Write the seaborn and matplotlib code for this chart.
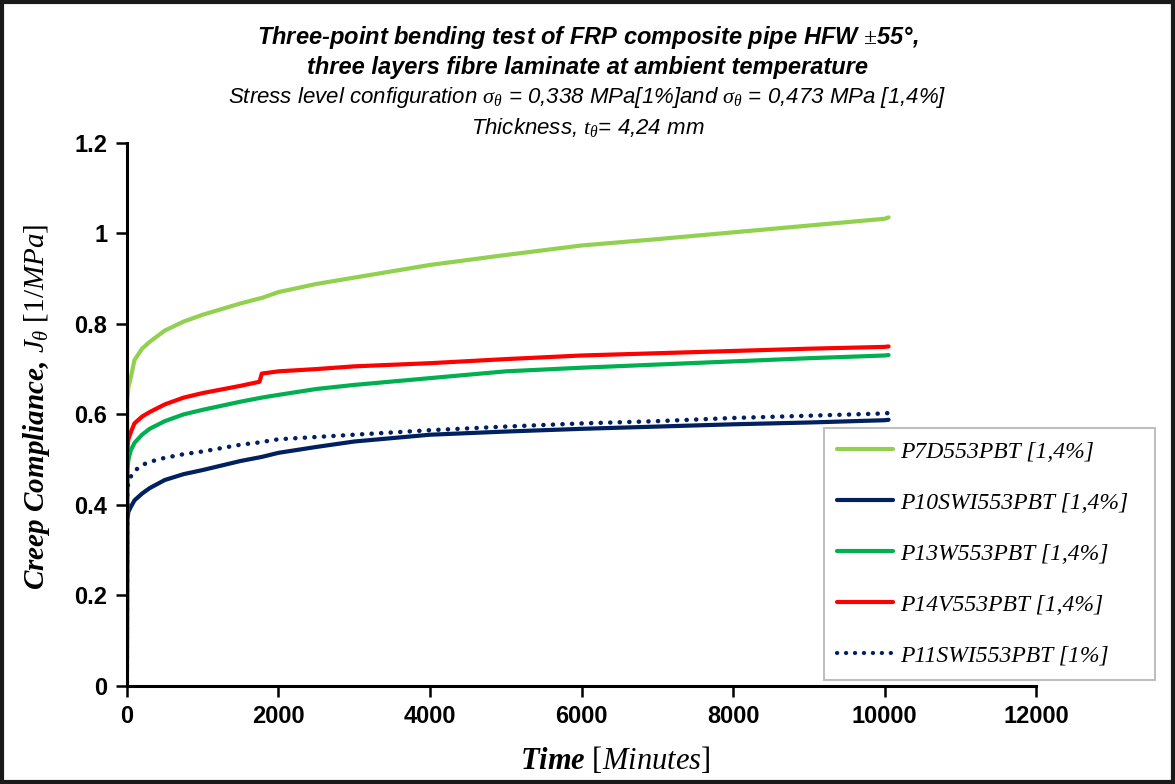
import matplotlib
matplotlib.use("Agg")
import matplotlib.pyplot as plt
from matplotlib import font_manager
from matplotlib.patches import Rectangle
import seaborn as sns
import pandas as pd

# ---------------- data ----------------
time_min = [0, 5, 20, 50, 100, 200, 300, 500, 750, 1000, 1500, 1750, 1780, 2000,
            2500, 3000, 4000, 5000, 6000, 7000, 8000, 9000, 10000, 10050]

p7d = [0, 0.63, 0.66, 0.68, 0.72, 0.745, 0.76, 0.785, 0.805, 0.82, 0.845, 0.856, 0.857,
       0.870, 0.888, 0.902, 0.930, 0.952, 0.973, 0.987, 1.002, 1.017, 1.032, 1.035]
p10swi = [0, 0.367, 0.385, 0.395, 0.41, 0.425, 0.437, 0.455, 0.468, 0.477, 0.497, 0.505,
          0.506, 0.515, 0.528, 0.540, 0.555, 0.562, 0.568, 0.573, 0.578, 0.582, 0.587, 0.588]
p13w = [0, 0.477, 0.50, 0.52, 0.537, 0.555, 0.568, 0.585, 0.60, 0.61, 0.628, 0.636, 0.637,
        0.643, 0.656, 0.665, 0.680, 0.695, 0.703, 0.710, 0.717, 0.724, 0.730, 0.731]
p14v = [0, 0.52, 0.545, 0.56, 0.58, 0.595, 0.605, 0.622, 0.637, 0.647, 0.663, 0.672, 0.690,
        0.695, 0.700, 0.706, 0.713, 0.722, 0.730, 0.735, 0.740, 0.745, 0.749, 0.750]
p11swi = [0, 0.433, 0.45, 0.462, 0.475, 0.488, 0.495, 0.504, 0.512, 0.518, 0.533, 0.538,
          0.539, 0.545, 0.550, 0.555, 0.565, 0.573, 0.580, 0.585, 0.592, 0.597, 0.602, 0.603]

series_names = ["P7D553PBT [1,4%]", "P10SWI553PBT [1,4%]", "P13W553PBT [1,4%]",
                "P14V553PBT [1,4%]", "P11SWI553PBT [1%]"]
series_values = [p7d, p10swi, p13w, p14v, p11swi]
series_colors = ["#92D050", "#002060", "#00B050", "#FF0000", "#002060"]
series_dotted = [False, False, False, False, True]

x_ticks = [0, 2000, 4000, 6000, 8000, 10000, 12000]
y_ticks = [0, 0.2, 0.4, 0.6, 0.8, 1.0, 1.2]
y_tick_labels = ["0", "0.2", "0.4", "0.6", "0.8", "1", "1.2"]

# ---------------- style ----------------
sns.set_style("ticks")
avail = {f.name for f in font_manager.fontManager.ttflist}
narrow = "Liberation Sans Narrow" if "Liberation Sans Narrow" in avail else "Liberation Sans"
plt.rcParams["font.family"] = [narrow, "DejaVu Sans"]
plt.rcParams["mathtext.fontset"] = "custom"
plt.rcParams["mathtext.rm"] = "Liberation Serif"
plt.rcParams["mathtext.it"] = "Liberation Serif:italic"
plt.rcParams["mathtext.bf"] = "Liberation Serif:bold"
for k in ["text.color", "axes.labelcolor", "xtick.color", "ytick.color"]:
    plt.rcParams[k] = "black"

fig = plt.figure(figsize=(11.75, 7.84), dpi=100)
ax = fig.add_axes([0.108, 0.125, 0.774, 0.693])

for name, vals, col, dot in zip(series_names, series_values, series_colors, series_dotted):
    df = pd.DataFrame({"time": time_min, "J": vals})
    if dot:
        sns.lineplot(data=df, x="time", y="J", ax=ax, color=col, lw=3.2, label=name,
                     estimator=None, sort=False, linestyle=(0, (0.05, 2.1)),
                     dash_capstyle="round")
    else:
        sns.lineplot(data=df, x="time", y="J", ax=ax, color=col, lw=3.0, label=name,
                     estimator=None, sort=False)

ax.set_xlim(0, 12000)
ax.set_ylim(0, 1.2)
ax.set_xticks(x_ticks)
ax.set_xticklabels([str(t) for t in x_ticks])
ax.set_yticks(y_ticks)
ax.set_yticklabels(y_tick_labels)
for lab in ax.get_xticklabels() + ax.get_yticklabels():
    lab.set_fontweight("bold")
    lab.set_fontsize(17)
ax.tick_params(axis="both", direction="out", length=8, width=1.8, color="black", pad=6)
for s in ["top", "right"]:
    ax.spines[s].set_visible(False)
for s in ["left", "bottom"]:
    ax.spines[s].set_linewidth(2.2)
    ax.spines[s].set_color("black")

ax.set_xlabel(r"Time $[Minutes]$", fontsize=22, fontstyle="italic", fontweight="bold",
              family="Liberation Serif")
ax.xaxis.set_label_coords(0.537, -0.108)
ax.set_ylabel(r"Creep Compliance, $J_{\theta}$ $[1/MPa]$", fontsize=21, fontstyle="italic",
              fontweight="bold", family="Liberation Serif")
ax.yaxis.set_label_coords(-0.082, 0.514)

# legend
if ax.get_legend() is not None:
    ax.get_legend().remove()
handles, labels = ax.get_legend_handles_labels()
leg = fig.legend(handles, labels, loc="upper left", bbox_to_anchor=(0.701, 0.135, 0.282, 0.319),
                 mode="expand", frameon=True, fancybox=False, edgecolor="#BFBFBF",
                 framealpha=1.0, handlelength=2.4, handletextpad=0.3, labelspacing=1.25,
                 borderpad=0.55, borderaxespad=0.0,
                 prop={"family": "Liberation Serif", "style": "italic", "size": 17})
leg.get_frame().set_linewidth(1.5)
for h in leg.get_lines():
    h.set_linewidth(3.0)

# titles
fig.text(0.5, 0.952, "Three-point bending test of FRP composite pipe HFW $\\pm$55°,",
         ha="center", va="center", fontsize=17, fontweight="bold", fontstyle="italic")
fig.text(0.5, 0.914, "three layers fibre laminate at ambient temperature",
         ha="center", va="center", fontsize=17, fontweight="bold", fontstyle="italic")
fig.text(0.5, 0.875, r"Stress level configuration $\sigma_{\theta}$ = 0,338 MPa[1%]and $\sigma_{\theta}$ = 0,473 MPa [1,4%]",
         ha="center", va="center", fontsize=16, fontstyle="italic")
fig.text(0.5, 0.838, r"Thickness, $t_{\theta}$= 4,24 mm",
         ha="center", va="center", fontsize=16, fontstyle="italic")

# figure frame
fig.patches.append(Rectangle((0.002, 0.002), 0.996, 0.996, transform=fig.transFigure,
                             fill=False, edgecolor="#1a1a1a", linewidth=3))

fig.savefig("out.png", dpi=100)
